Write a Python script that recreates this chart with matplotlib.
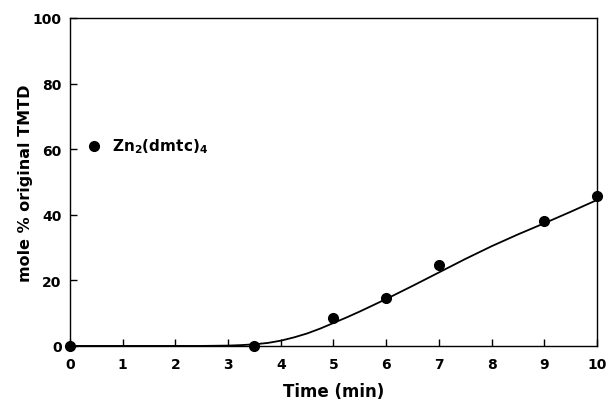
import matplotlib
matplotlib.use('Agg')
import matplotlib.pyplot as plt

# measured points
time_pts = [0, 3.5, 5, 6, 7, 9, 10]
mole_pts = [0, 0, 8.5, 14.7, 24.7, 38.2, 45.8]

# fitted curve
curve_t = [0, 1, 2, 2.5, 3, 3.25, 3.5, 3.75, 4, 4.25, 4.5, 4.75, 5, 5.25, 5.5, 5.75, 6,
           6.5, 7, 7.5, 8, 8.5, 9, 9.5, 10]
curve_y = [0, 0, 0, 0, 0.1, 0.25, 0.5, 0.9, 1.6, 2.6, 3.8, 5.3, 7.0, 8.7, 10.5, 12.4, 14.3,
           18.3, 22.4, 26.5, 30.4, 34.0, 37.4, 40.9, 44.5]

xticks = list(range(0, 11))
yticks = [0, 20, 40, 60, 80, 100]

plt.rcParams['font.family'] = 'DejaVu Sans'
plt.rcParams['font.weight'] = 'bold'

fig = plt.figure(figsize=(6.08, 4.02), dpi=100)
ax = fig.add_axes([0.115, 0.137, 0.867, 0.816])

ax.plot(curve_t, curve_y, color='black', lw=1.3, clip_on=False, zorder=2)
ax.plot(time_pts, mole_pts, 'o', color='black', ms=7, clip_on=False, zorder=3)

# legend entry
ax.plot([0.45], [61], 'o', color='black', ms=7)
ax.text(0.8, 61, 'Zn$_\\mathbf{2}$(dmtc)$_\\mathbf{4}$', fontsize=11, fontweight='bold', va='center')

ax.set_xlim(0, 10)
ax.set_ylim(0, 100)
ax.set_xticks(xticks)
ax.set_yticks(yticks)
ax.tick_params(direction='in', length=5, width=1, labelsize=10, pad=6)
ax.tick_params(axis='x', pad=8)
for s in ax.spines.values():
    s.set_linewidth(1)

ax.set_xlabel('Time (min)', fontsize=12, fontweight='bold', labelpad=8)
ax.set_ylabel('mole % original TMTD', fontsize=11.5, fontweight='bold', labelpad=0)

fig.savefig('out.png', dpi=100)
